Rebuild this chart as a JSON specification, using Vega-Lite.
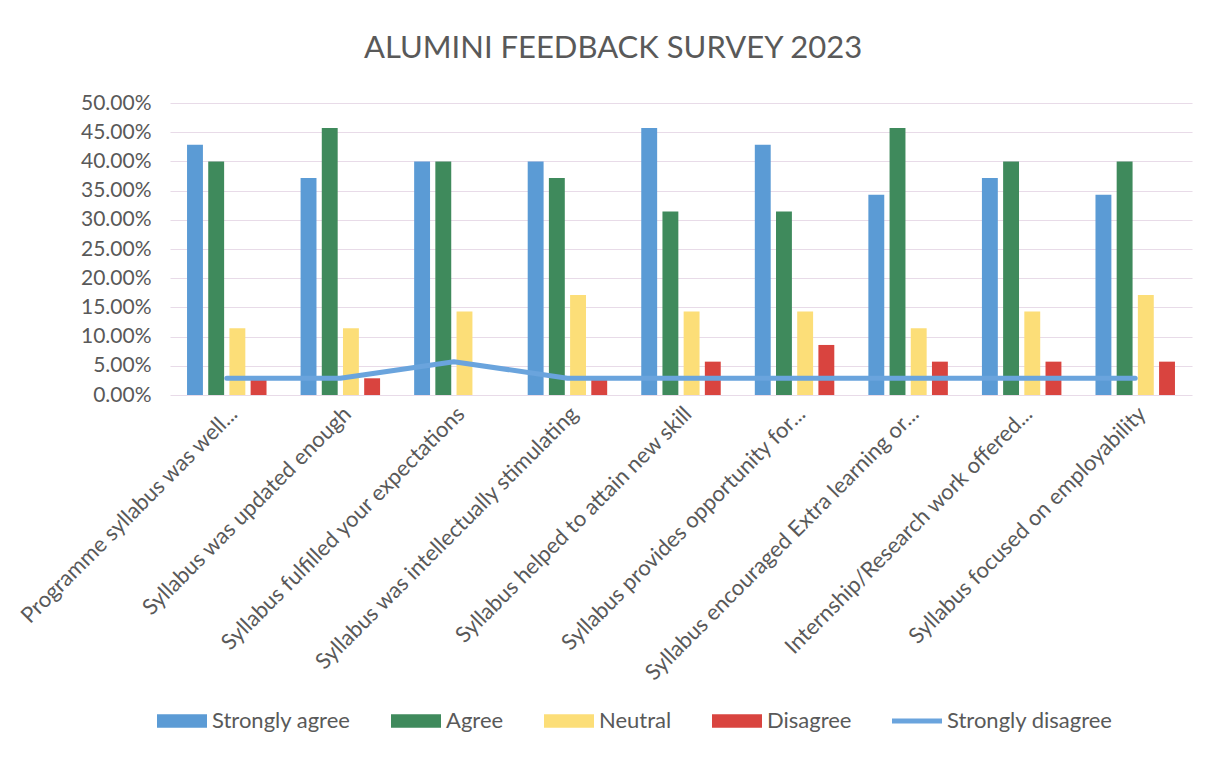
{
  "$schema": "https://vega.github.io/schema/vega-lite/v6.json",
  "width": 1022,
  "height": 292,
  "autosize": {"type": "none"},
  "padding": {"left": 170, "top": 103, "right": 25, "bottom": 362},
  "background": "white",
  "title": {
    "text": "ALUMINI FEEDBACK SURVEY 2023",
    "font": "Lato",
    "fontSize": 31,
    "fontWeight": "normal",
    "color": "#595959",
    "anchor": "middle",
    "dx": -68,
    "offset": 27
  },
  "config": {
    "view": {"stroke": null},
    "font": "Lato"
  },
  "datasets": {
    "survey": [
      {"q": "Programme syllabus was well...", "series": "Strongly agree", "value": 0.4286},
      {"q": "Programme syllabus was well...", "series": "Agree", "value": 0.4},
      {"q": "Programme syllabus was well...", "series": "Neutral", "value": 0.1143},
      {"q": "Programme syllabus was well...", "series": "Disagree", "value": 0.0286},
      {"q": "Programme syllabus was well...", "series": "Strongly disagree", "value": 0.0286},
      {"q": "Syllabus was updated enough", "series": "Strongly agree", "value": 0.3714},
      {"q": "Syllabus was updated enough", "series": "Agree", "value": 0.4571},
      {"q": "Syllabus was updated enough", "series": "Neutral", "value": 0.1143},
      {"q": "Syllabus was updated enough", "series": "Disagree", "value": 0.0286},
      {"q": "Syllabus was updated enough", "series": "Strongly disagree", "value": 0.0286},
      {"q": "Syllabus fulfilled your expectations", "series": "Strongly agree", "value": 0.4},
      {"q": "Syllabus fulfilled your expectations", "series": "Agree", "value": 0.4},
      {"q": "Syllabus fulfilled your expectations", "series": "Neutral", "value": 0.1429},
      {"q": "Syllabus fulfilled your expectations", "series": "Disagree", "value": 0},
      {"q": "Syllabus fulfilled your expectations", "series": "Strongly disagree", "value": 0.0571},
      {"q": "Syllabus was intellectually stimulating", "series": "Strongly agree", "value": 0.4},
      {"q": "Syllabus was intellectually stimulating", "series": "Agree", "value": 0.3714},
      {"q": "Syllabus was intellectually stimulating", "series": "Neutral", "value": 0.1714},
      {"q": "Syllabus was intellectually stimulating", "series": "Disagree", "value": 0.0286},
      {"q": "Syllabus was intellectually stimulating", "series": "Strongly disagree", "value": 0.0286},
      {"q": "Syllabus helped to attain new skill", "series": "Strongly agree", "value": 0.4571},
      {"q": "Syllabus helped to attain new skill", "series": "Agree", "value": 0.3143},
      {"q": "Syllabus helped to attain new skill", "series": "Neutral", "value": 0.1429},
      {"q": "Syllabus helped to attain new skill", "series": "Disagree", "value": 0.0571},
      {"q": "Syllabus helped to attain new skill", "series": "Strongly disagree", "value": 0.0286},
      {"q": "Syllabus provides opportunity for...", "series": "Strongly agree", "value": 0.4286},
      {"q": "Syllabus provides opportunity for...", "series": "Agree", "value": 0.3143},
      {"q": "Syllabus provides opportunity for...", "series": "Neutral", "value": 0.1429},
      {"q": "Syllabus provides opportunity for...", "series": "Disagree", "value": 0.0857},
      {"q": "Syllabus provides opportunity for...", "series": "Strongly disagree", "value": 0.0286},
      {"q": "Syllabus encouraged Extra learning or...", "series": "Strongly agree", "value": 0.3429},
      {"q": "Syllabus encouraged Extra learning or...", "series": "Agree", "value": 0.4571},
      {"q": "Syllabus encouraged Extra learning or...", "series": "Neutral", "value": 0.1143},
      {"q": "Syllabus encouraged Extra learning or...", "series": "Disagree", "value": 0.0571},
      {"q": "Syllabus encouraged Extra learning or...", "series": "Strongly disagree", "value": 0.0286},
      {"q": "Internship/Research work offered...", "series": "Strongly agree", "value": 0.3714},
      {"q": "Internship/Research work offered...", "series": "Agree", "value": 0.4},
      {"q": "Internship/Research work offered...", "series": "Neutral", "value": 0.1429},
      {"q": "Internship/Research work offered...", "series": "Disagree", "value": 0.0571},
      {"q": "Internship/Research work offered...", "series": "Strongly disagree", "value": 0.0286},
      {"q": "Syllabus focused on employability", "series": "Strongly agree", "value": 0.3429},
      {"q": "Syllabus focused on employability", "series": "Agree", "value": 0.4},
      {"q": "Syllabus focused on employability", "series": "Neutral", "value": 0.1714},
      {"q": "Syllabus focused on employability", "series": "Disagree", "value": 0.0571},
      {"q": "Syllabus focused on employability", "series": "Strongly disagree", "value": 0.0286}
    ]
  },
  "data": {"name": "survey"},
  "encoding": {
    "x": {
      "field": "q",
      "type": "nominal",
      "sort": null,
      "title": null,
      "scale": {"paddingInner": 0.3, "paddingOuter": 0.15},
      "axis": {
        "labelAngle": -45,
        "labelFont": "Lato",
        "labelFontSize": 22,
        "labelColor": "#595959",
        "labelPadding": 8,
        "labelLimit": 500,
        "domain": false,
        "ticks": false,
        "grid": false
      }
    },
    "y": {
      "field": "value",
      "type": "quantitative",
      "title": null,
      "scale": {"domain": [0, 0.5], "nice": false},
      "axis": {
        "format": ".2%",
        "values": [0, 0.05, 0.1, 0.15, 0.2, 0.25, 0.3, 0.35, 0.4, 0.45, 0.5],
        "labelFont": "Lato",
        "labelFontSize": 21,
        "labelColor": "#595959",
        "labelPadding": 19,
        "domain": false,
        "ticks": false,
        "gridColor": "#e8dbe8",
        "gridWidth": 1.2
      }
    },
    "color": {
      "field": "series",
      "type": "nominal",
      "title": null,
      "scale": {
        "domain": ["Strongly agree", "Agree", "Neutral", "Disagree", "Strongly disagree"],
        "range": ["#5b9bd5", "#3f8a5c", "#fcde78", "#d9443f", "#6aa4dd"]
      },
      "legend": {
        "orient": "none",
        "legendX": -13,
        "legendY": 593,
        "direction": "horizontal",
        "labelFont": "Lato",
        "labelFontSize": 22,
        "labelColor": "#595959",
        "labelLimit": 400,
        "labelOffset": 5,
        "columnPadding": 40,
        "symbolType": "M-1,-0.27H1V0.27H-1Z",
        "symbolSize": 2500,
        "symbolStrokeWidth": 0,
        "symbolOpacity": 1,
        "encode": {
          "symbols": {
            "update": {
              "shape": {"signal": "datum.value === 'Strongly disagree' ? 'M-1,-0.1H1V0.1H-1Z' : 'M-1,-0.27H1V0.27H-1Z'"},
              "fill": {"signal": "scale('color', datum.value)"},
              "opacity": {"value": 1}
            }
          }
        }
      }
    }
  },
  "layer": [
    {
      "transform": [{"filter": "datum.series !== 'Strongly disagree'"}],
      "mark": {"type": "bar"},
      "encoding": {
        "xOffset": {
          "field": "series",
          "type": "nominal",
          "sort": ["Strongly agree", "Agree", "Neutral", "Disagree"],
          "scale": {"paddingInner": 0.25, "paddingOuter": 0}
        }
      }
    },
    {
      "transform": [{"filter": "datum.series === 'Strongly disagree'"}],
      "mark": {"type": "line", "strokeWidth": 5, "strokeCap": "round", "strokeJoin": "round"},
      "encoding": {}
    }
  ]
}
